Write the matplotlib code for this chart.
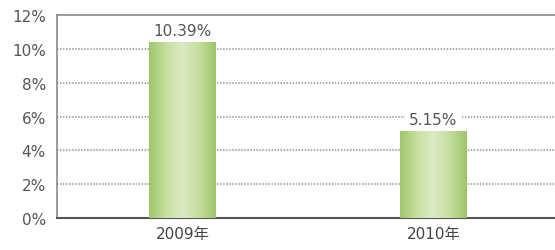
import matplotlib
matplotlib.use("Agg")
import matplotlib.pyplot as plt
import numpy as np
from matplotlib.colors import LinearSegmentedColormap

plt.rcParams['font.family'] = ['DejaVu Sans', 'Noto Sans CJK SC']

categories = ['2009年', '2010年']
values = [10.39, 5.15]
value_labels = ['10.39%', '5.15%']
yticks = [0, 2, 4, 6, 8, 10, 12]
ytick_labels = ['0%', '2%', '4%', '6%', '8%', '10%', '12%']

fig = plt.figure(figsize=(5.55, 2.51), dpi=100)
ax = fig.add_axes([57/555, 1 - 219/251, (559 - 57)/555, (219 - 16)/251])

x = np.arange(len(categories))
bars = ax.bar(x, values, width=0.265, color='#b5d690', zorder=2)

cmap = LinearSegmentedColormap.from_list('g', ['#9ec66c', '#c6df9f', '#dbeac4', '#c4de9c', '#9dc56b'])
grad = np.linspace(0, 1, 256).reshape(1, -1)
for b in bars:
    x0, w, h = b.get_x(), b.get_width(), b.get_height()
    im = ax.imshow(grad, cmap=cmap, aspect='auto', extent=[x0, x0 + w, 0, h], zorder=3)
    im.set_clip_path(b)

for xi, v, lab in zip(x, values, value_labels):
    ax.text(xi, v + 0.25, lab, ha='center', va='bottom', fontsize=11, color='#555555', zorder=2.4,
            bbox=dict(facecolor='white', edgecolor='none', pad=3))

ax.set_xlim(-0.5, 1.5)
ax.set_ylim(0, 12)
ax.set_yticks(yticks)
ax.set_yticklabels(ytick_labels, fontsize=11, color='#555555')
ax.set_xticks(x)
ax.set_xticklabels(categories, fontsize=11, color='#444444')
ax.tick_params(axis='y', length=0, pad=8)
ax.tick_params(axis='x', length=0, pad=6)

for yv in yticks[1:-1]:
    ax.axhline(yv, color='#aaaaaa', linestyle=(0, (0.7, 0.75)), linewidth=1.5, zorder=1)

ax.spines['right'].set_visible(False)
for s in ['left', 'top']:
    ax.spines[s].set_color('#8a8a8a')
    ax.spines[s].set_linewidth(1.2)
ax.spines['bottom'].set_color('#555555')
ax.spines['bottom'].set_linewidth(1.5)

fig.savefig('out.png', dpi=100)
